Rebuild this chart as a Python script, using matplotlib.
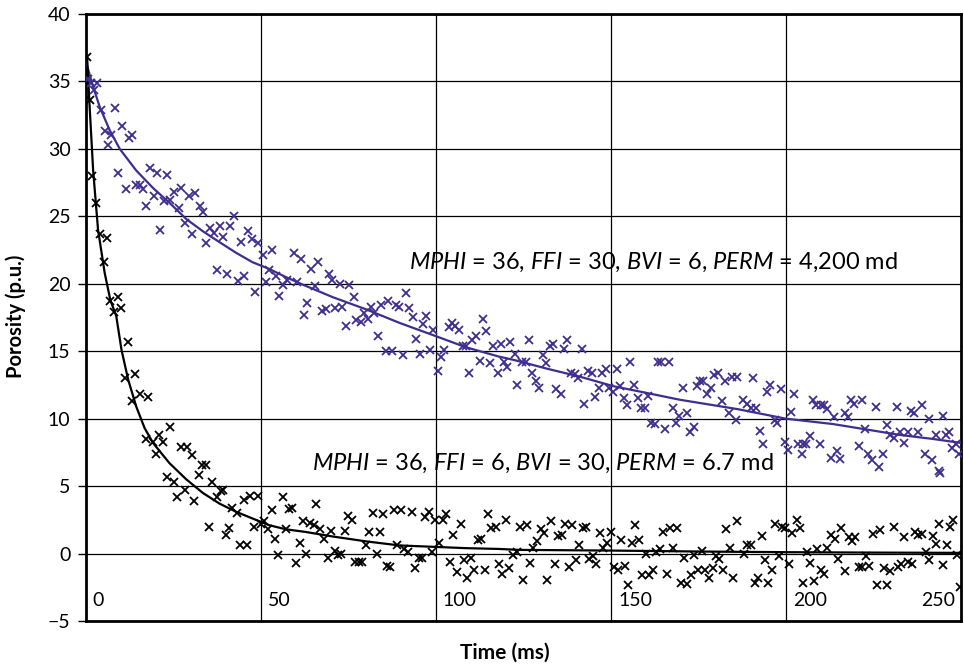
import matplotlib
matplotlib.use('Agg')
import matplotlib.pyplot as plt

plt.rcParams['font.family'] = ['Lato', 'DejaVu Sans']
plt.rcParams['mathtext.fontset'] = 'custom'
plt.rcParams['mathtext.rm'] = 'Lato'
plt.rcParams['mathtext.it'] = 'Lato:italic'

# echo amplitudes, fast-draining rock (purple)
t_a = [0.5, 1.6, 2.3, 3.3, 4.3, 5.4, 6.4, 7.3, 8.3, 9.3, 10.2, 11.4, 12.3, 13.3, 14.2, 15.4, 16.3, 17.3, 18.2,
       19.4, 20.3, 21.3, 22.2, 23.3, 24.1, 25.3, 26.6, 27.2, 28.3, 29.4, 30.4, 31.2, 32.5, 33.4, 34.4, 35.5,
       36.5, 37.4, 38.4, 39.1, 40.3, 41.3, 42.4, 43.4, 44.4, 45.3, 46.4, 47.4, 48.4, 49.3, 50.5, 51.4, 52.4,
       53.3, 54.3, 55.2, 56.4, 57.6, 59.5, 60.4, 61.4, 62.2, 63.2, 64.4, 65.4, 66.3, 67.6, 68.5, 69.5, 70.4,
       71.3, 72.5, 73.2, 74.4, 75.3, 76.5, 77.2, 78.5, 79.6, 80.5, 81.5, 82.4, 83.4, 84.3, 85.6, 86.4, 87.5,
       88.6, 89.4, 90.5, 91.5, 92.4, 93.4, 94.3, 95.4, 96.4, 97.3, 98.4, 99.3, 100.5, 101.4, 102.4, 103.6,
       104.6, 105.5, 106.6, 107.6, 108.5, 109.5, 110.4, 111.4, 112.5, 113.5, 114.4, 115.5, 116.4, 117.6,
       118.5, 119.4, 120.4, 121.3, 122.6, 123.3, 124.7, 125.6, 126.6, 127.5, 128.5, 129.4, 130.6, 131.5,
       132.5, 133.5, 134.4, 135.6, 136.5, 137.5, 138.6, 139.6, 140.6, 141.6, 142.4, 143.4, 144.6, 145.4,
       146.5, 147.4, 148.6, 149.5, 150.6, 151.7, 152.7, 153.6, 154.6, 155.5, 156.6, 157.6, 158.6, 159.6,
       160.5, 161.5, 162.6, 163.4, 164.3, 165.5, 166.6, 167.6, 168.5, 169.5, 170.5, 171.6, 172.6, 173.6,
       174.5, 175.4, 176.4, 177.5, 178.5, 179.5, 180.6, 181.6, 182.5, 183.7, 184.6, 185.6, 185.9, 187.7,
       188.9, 190.1, 190.6, 191.5, 192.5, 193.4, 194.6, 195.5, 196.8, 197.5, 198.7, 199.6, 200.6, 201.5,
       202.4, 203.4, 204.5, 204.8, 205.8, 206.7, 207.7, 208.6, 209.8, 210.1, 210.9, 211.8, 212.7, 213.6,
       214.6, 215.5, 216.7, 217.6, 218.6, 219.5, 220.7, 221.6, 222.6, 223.5, 224.6, 225.7, 226.6, 227.6,
       228.7, 229.7, 230.7, 231.7, 232.6, 233.6, 234.7, 235.7, 236.6, 237.7, 238.7, 239.6, 240.8, 241.8,
       242.8, 243.7, 243.9, 244.7, 245.6, 246.6, 247.5, 248.5, 249.4]
por_a = [35.2, 34.9, 34.4, 34.9, 32.9, 31.3, 30.3, 31.0, 33.0, 28.2, 31.7, 27.0, 30.8, 31.0, 27.3, 27.3, 27.0,
         25.8, 28.6, 26.5, 28.2, 24.0, 26.1, 28.1, 26.2, 26.8, 25.6, 27.1, 24.5, 26.5, 23.7, 26.7, 25.8, 25.3,
         23.0, 24.1, 23.8, 21.0, 24.3, 23.5, 20.7, 24.3, 25.0, 20.2, 23.1, 20.6, 23.9, 23.3, 19.4, 23.0, 22.1,
         20.1, 21.0, 22.5, 20.6, 19.1, 19.9, 20.3, 22.3, 20.1, 21.8, 17.7, 18.6, 21.1, 19.8, 21.6, 18.0, 18.1,
         20.7, 20.3, 18.2, 20.0, 18.3, 16.9, 19.9, 19.0, 17.3, 17.2, 17.8, 17.4, 18.3, 17.8, 16.1, 18.4, 15.0,
         18.7, 15.0, 18.4, 18.3, 14.7, 19.3, 18.2, 17.5, 15.9, 14.8, 17.0, 17.6, 15.1, 16.6, 13.5, 14.6, 15.1,
         16.8, 17.1, 16.9, 16.6, 15.4, 15.4, 13.4, 15.8, 16.1, 14.3, 17.4, 16.5, 14.1, 15.4, 13.4, 15.5, 14.2,
         13.8, 15.7, 14.8, 12.5, 14.2, 14.2, 15.8, 13.4, 12.8, 12.3, 14.7, 14.1, 15.4, 15.5, 12.2, 11.8, 15.2,
         15.8, 13.4, 13.3, 13.0, 15.2, 11.1, 13.5, 13.4, 11.6, 12.3, 13.4, 13.7, 12.3, 12.0, 13.7, 12.4, 11.5,
         11.0, 14.2, 12.5, 11.5, 10.8, 10.8, 11.7, 9.7, 9.6, 14.2, 14.2, 9.2, 14.2, 10.8, 9.7, 10.2, 12.3, 10.4,
         9.0, 9.4, 12.4, 12.8, 12.8, 11.8, 12.3, 13.2, 13.4, 11.3, 12.8, 10.4, 13.1, 9.9, 13.1, 11.4, 11.1,
         10.8, 13.0, 10.8, 9.1, 8.1, 12.0, 12.5, 9.9, 9.7, 12.2, 8.3, 7.7, 10.5, 11.8, 8.1, 7.4, 8.1, 8.1, 8.7,
         11.4, 11.0, 8.1, 11.0, 11.0, 10.7, 7.1, 10.1, 7.6, 7.0, 10.4, 10.1, 11.4, 11.1, 8.0, 11.4, 9.2, 7.4,
         6.9, 10.9, 6.4, 7.4, 9.5, 8.8, 8.6, 10.9, 9.0, 8.2, 9.0, 10.6, 10.4, 9.0, 11.0, 7.4, 10.0, 6.9, 8.8,
         6.1, 6.0, 10.2, 8.8, 9.0, 7.8, 8.1, 7.4]

# echo amplitudes, slow-draining rock (black)
t_b = [0.4, 1.1, 1.9, 3.0, 4.0, 5.1, 6.1, 7.0, 8.0, 9.2, 10.0, 11.1, 12.1, 13.2, 14.0, 15.4, 17.1, 17.8, 19.2,
       20.1, 20.9, 22.0, 23.2, 24.1, 25.1, 26.1, 27.2, 28.2, 28.9, 30.2, 31.0, 32.2, 33.2, 34.2, 35.1, 36.1,
       37.4, 38.6, 39.1, 40.0, 41.0, 41.9, 43.2, 44.1, 45.1, 46.0, 47.0, 48.1, 49.1, 50.0, 51.0, 52.1, 53.1,
       54.1, 55.0, 56.2, 57.1, 57.9, 59.0, 60.0, 61.2, 62.1, 63.0, 64.1, 65.1, 65.8, 67.0, 67.9, 69.2, 70.1,
       71.1, 72.0, 73.0, 73.9, 74.9, 76.0, 77.0, 78.0, 78.9, 80.1, 81.0, 82.0, 83.1, 84.1, 85.0, 86.1, 86.9,
       87.9, 88.9, 90.0, 91.0, 91.9, 93.1, 94.1, 95.1, 96.0, 97.0, 97.9, 98.9, 99.8, 101.0, 101.9, 103.0,
       104.0, 105.0, 106.0, 107.1, 108.1, 109.0, 110.0, 110.9, 111.9, 112.8, 113.9, 114.9, 115.8, 117.1,
       118.0, 119.0, 119.9, 120.9, 122.1, 123.2, 124.0, 125.0, 125.9, 126.9, 127.8, 128.8, 129.9, 130.8,
       131.8, 132.9, 133.9, 134.8, 135.9, 136.8, 138.0, 138.9, 139.9, 141.0, 141.9, 142.9, 143.8, 144.8,
       145.8, 146.8, 147.7, 148.9, 149.9, 151.0, 151.9, 152.9, 153.9, 154.9, 156.0, 157.0, 158.0, 159.0,
       160.0, 160.9, 161.9, 162.9, 163.9, 164.8, 166.0, 166.9, 167.8, 168.8, 169.9, 170.9, 171.8, 172.8,
       173.8, 174.8, 175.9, 176.9, 178.0, 179.0, 180.0, 180.9, 181.9, 182.8, 184.0, 184.9, 185.9, 188.0,
       188.9, 190.0, 191.1, 192.1, 193.0, 193.9, 194.9, 195.9, 196.8, 197.9, 198.9, 199.8, 200.9, 201.8,
       203.0, 203.9, 204.9, 206.0, 206.9, 207.9, 208.9, 209.9, 210.8, 211.8, 212.9, 213.9, 214.8, 215.8,
       216.9, 217.9, 218.8, 219.8, 220.7, 221.8, 222.9, 223.8, 224.8, 225.9, 226.9, 227.9, 228.9, 229.8,
       230.8, 231.9, 232.9, 233.8, 234.9, 235.9, 236.8, 237.8, 238.7, 240.0, 240.9, 241.9, 242.8, 243.8,
       244.9, 245.9, 246.8, 247.7, 248.8, 249.6]
por_b = [36.8, 33.6, 28.0, 26.0, 23.7, 21.6, 23.4, 18.7, 17.9, 19.0, 18.2, 13.0, 15.7, 11.3, 13.3, 11.8, 8.5,
         11.6, 8.3, 7.4, 8.8, 8.3, 5.7, 9.4, 5.3, 4.2, 7.9, 4.7, 7.9, 7.3, 3.9, 5.8, 6.6, 6.6, 2.0, 5.3, 4.2,
         4.6, 4.7, 1.4, 1.9, 3.4, 3.0, 0.6, 4.0, 0.6, 4.3, 2.0, 4.3, 2.2, 2.4, 1.8, 3.2, 1.1, -0.1, 4.2, 1.8,
         3.3, 3.4, -0.7, 0.8, 2.4, 0.0, 2.3, 2.1, 3.7, 1.8, 1.1, -0.3, 1.7, 0.2, -0.1, 0.0, 1.7, 2.8, 2.5, -0.6,
         -0.6, -0.6, 0.6, 1.6, 3.0, 0.0, 1.6, 2.9, -0.9, -1.0, 3.2, 0.6, 3.2, 0.3, 0.1, 3.1, -1.1, -0.3, -0.35,
         2.7, 3.1, 0.1, 2.5, 0.8, 2.5, 2.9, -0.6, 1.4, -1.4, 2.2, -0.5, -1.8, -0.3, -1.2, 1.0, 1.1, -1.2, 2.9,
         1.9, 2.0, -0.8, -1.5, 2.5, -1.1, -0.1, 0.1, 1.95, -1.95, 2.1, -0.7, 0.4, 0.9, 1.8, 1.5, -1.95, 2.4,
         -0.8, 1.3, 1.4, 2.2, -1.0, 2.1, -0.5, 0.6, 1.9, 1.95, -0.4, -0.2, -0.8, 1.5, 0.4, 0.8, 1.6, -1.0,
         -1.2, 1.0, -0.9, -2.3, 0.8, 2.1, 1.0, -1.6, 0.0, -1.6, -1.2, 0.1, 0.3, 1.6, -1.5, 1.9, 0.4, 1.9, -2.2,
         -0.3, -2.25, -1.6, -0.1, -1.2, 0.2, -1.2, -1.8, -1.1, -0.2, -0.4, -1.2, 1.8, 0.4, -1.8, 2.4, 0.0, 0.6,
         0.6, -2.2, -1.8, 1.3, -0.5, -2.2, -1.2, 2.2, -0.2, 2.0, 1.9, -0.8, 1.55, 2.5, 1.9, -2.2, 0.1, -0.7,
         -2.0, 0.3, -1.2, -1.5, 0.4, 1.4, 1.1, -0.4, 1.9, -1.3, 1.25, 0.9, 1.25, -1.0, -1.0, -0.2, -0.9, 1.45,
         -2.3, 1.75, -1.1, -2.3, -1.3, 2.0, -1.0, -0.8, 1.25, -0.6, -0.8, 1.6, 1.4, 1.45, 0.1, -0.5, 1.3, 0.7,
         2.2, -0.85, 0.6, 2.0, 2.5, -0.1, -2.5]

# fitted decay curves
fit_t_a = [0, 2.1, 4.0, 6.8, 9.7, 14.4, 19.2, 23.9, 28.7, 33.4, 38.1, 42.9, 47.6, 52.4, 57.1, 62.3, 70.6,
           80.1, 89.6, 99.1, 108.5, 118.0, 122.3, 131.8, 141.3, 150.8, 160.3, 169.7, 179.2, 186.3, 199.9,
           213.4, 222.9, 232.3, 241.8, 250]
fit_a = [36.5, 34.6, 33.1, 31.4, 30.0, 28.4, 27.1, 26.0, 24.8, 23.9, 23.1, 22.3, 21.6, 21.1, 20.5, 19.9, 19.0,
         18.1, 17.1, 16.2, 15.3, 14.6, 14.35, 13.7, 13.1, 12.4, 11.9, 11.4, 11.0, 10.7, 10.0, 9.6, 9.2, 8.8,
         8.5, 8.2]
fit_t_b = [0, 0.4, 1.1, 2.1, 3.5, 5.4, 7.0, 8.7, 10.2, 12.1, 14.4, 16.8, 19.2, 23.9, 28.7, 33.4, 38.2, 42.9,
           47.6, 52.4, 57.1, 62.8, 70.6, 80.1, 89.6, 99.1, 108.5, 118.0, 123.7, 150, 175, 200, 225, 250]
fit_b = [37.0, 36.7, 33.1, 28.4, 24.0, 20.8, 18.8, 17.6, 15.1, 12.9, 10.9, 9.3, 8.2, 6.7, 5.5, 4.5, 3.7, 3.1,
         2.6, 2.1, 1.8, 1.6, 1.26, 0.9, 0.6, 0.5, 0.4, 0.34, 0.27, 0.22, 0.15, 0.1, 0.07, 0.05]

x_ticks = [0, 50, 100, 150, 200, 250]
y_ticks = [-5, 0, 5, 10, 15, 20, 25, 30, 35, 40]

purple = '#3f2d8f'

fig = plt.figure(figsize=(9.64, 6.67), dpi=100)
ax = fig.add_axes([0.089, 0.069, 0.908, 0.910])

ax.plot(fit_t_a, fit_a, color=purple, lw=1.6, zorder=3)
ax.plot(fit_t_b, fit_b, color='black', lw=1.6, zorder=3)
ax.plot(t_a, por_a, 'x', color=purple, ms=5.5, mew=1.3, zorder=4)
ax.plot(t_b, por_b, 'x', color='black', ms=5.5, mew=1.3, zorder=4)

ax.set_xlim(0, 250)
ax.set_ylim(-5, 40)
ax.set_xticks(x_ticks[1:-1])
ax.set_xticklabels([])
ax.tick_params(axis='x', length=0)
ax.set_yticks(y_ticks)
ax.tick_params(axis='y', direction='out', length=6, width=1, labelsize=14, pad=5)
ax.grid(True, color='black', lw=0.9)
ax.set_axisbelow(True)
for s in ax.spines.values():
    s.set_linewidth(2)

# x labels sit inside the plot, right of each grid line
for v in x_ticks:
    if v == 250:
        ax.text(248.3, -3.45, str(v), ha='right', va='center', fontsize=14)
    else:
        ax.text(v + 2, -3.45, str(v), ha='left', va='center', fontsize=14)

ax.text(92.4, 21.6, r'$MPHI$ = 36, $FFI$ = 30, $BVI$ = 6, $PERM$ = 4,200 md',
        ha='left', va='center', fontsize=17)
ax.text(64.5, 6.7, r'$MPHI$ = 36, $FFI$ = 6, $BVI$ = 30, $PERM$ = 6.7 md',
        ha='left', va='center', fontsize=17)

fig.text(0.524, 0.022, 'Time (ms)', ha='center', va='center', fontsize=15, fontweight='bold')
fig.text(0.016, 0.526, 'Porosity (p.u.)', ha='center', va='center', rotation=90,
         fontsize=14.5, fontweight='bold')

fig.savefig('out.png', dpi=100)
